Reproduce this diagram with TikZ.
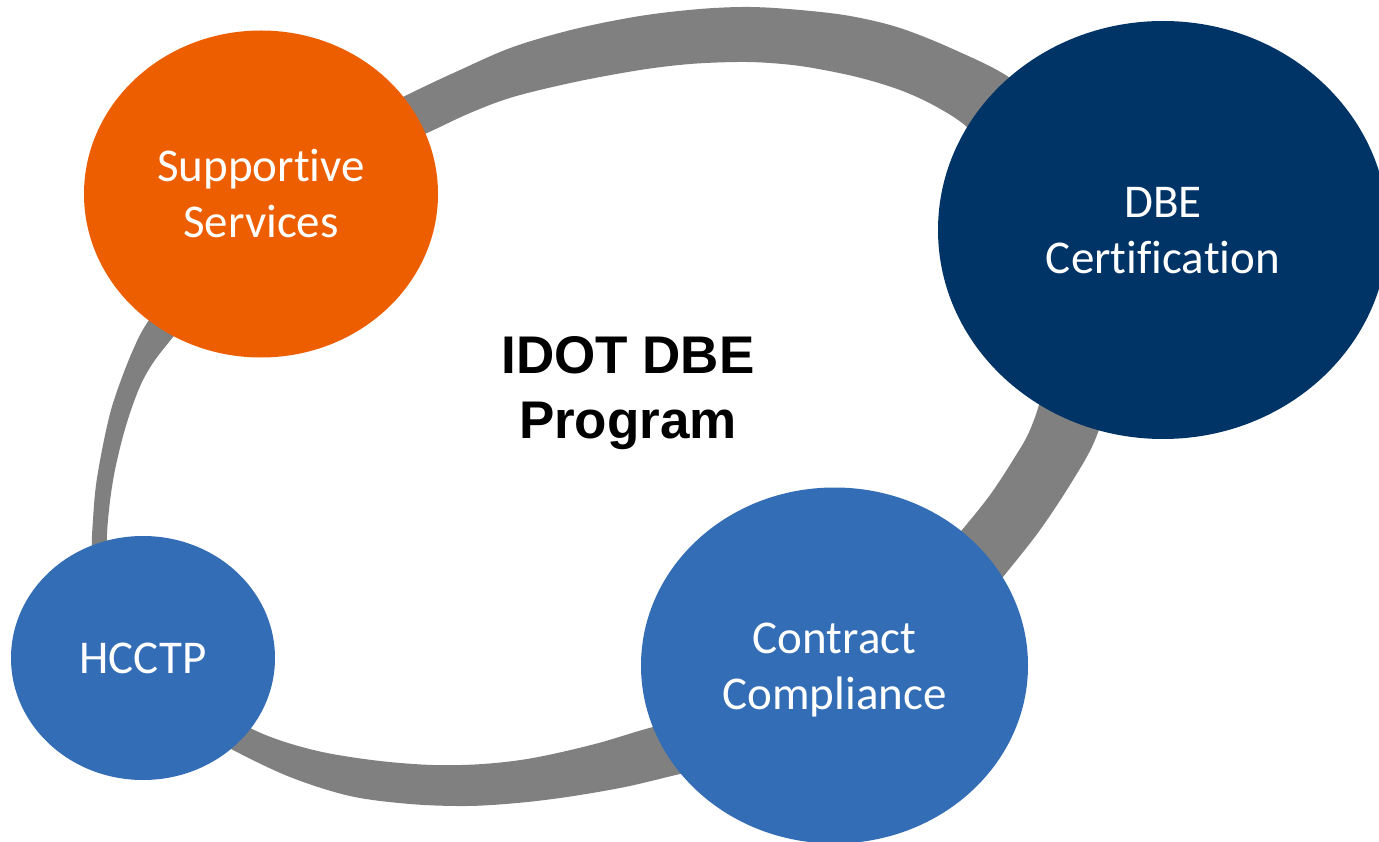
\documentclass[tikz,border=0pt]{standalone}
\usepackage{fontspec}
\setmainfont{Carlito}[Ligatures=NoCommon]
\newfontfamily\titlefont{Liberation Sans}
\usetikzlibrary{shapes.geometric}
\definecolor{ringgray}{HTML}{808080}
\definecolor{orangec}{HTML}{EC5E00}
\definecolor{navyc}{HTML}{003366}
\definecolor{bluec}{HTML}{336DB5}
\tikzset{
  bubble/.style={ellipse, inner sep=0pt, text=white, align=center,
    font=\fontsize{47}{56}\selectfont, text height=31pt, text depth=0pt},
  twoline/.style={text height=87pt},
  titletext/.style={align=center, text=black,
    font=\titlefont\bfseries\fontsize{53}{65}\selectfont, text height=103pt, text depth=0pt}
}
\begin{document}
\begin{tikzpicture}[x=1pt,y=-1pt]
\useasboundingbox (0,0) rectangle (1379,842);
\fill[white] (0,0) rectangle (1379,842);
% ring
\fill[ringgray, even odd rule]
  plot[smooth cycle, tension=0.55] coordinates {
    (92,550) (93,520) (96,485) (103,445) (111,410) (121,380) (133,350) (147,323)
    (185,270) (235,215) (290,165) (345,128) (403,97) (460,70) (513,47) (575,29)
    (640,16) (700,9) (750,7) (800,10) (850,16) (900,28) (955,50) (1010,78)
    (1055,120) (1090,180) (1110,250) (1115,320) (1110,390) (1095,440) (1073,480)
    (1040,530) (1003,577) (960,630) (900,690) (840,725) (780,750) (730,763)
    (680,774) (625,787) (567,797) (517,803) (467,806) (410,804) (350,796)
    (290,777) (233,750) (190,725) (150,690) (115,640) (97,595)}
  plot[smooth cycle, tension=0.55] coordinates {
    (107,545) (109,510) (114,475) (122,440) (131,410) (142,382) (155,360)
    (173,337) (210,290) (260,240) (310,195) (365,160) (427,133) (470,113)
    (513,97) (575,82) (640,70) (690,64) (737,62) (770,63) (807,67) (857,77)
    (900,90) (935,106) (967,127) (995,160) (1020,210) (1037,270) (1043,330)
    (1042,390) (1030,430) (1013,460) (990,495) (962,530) (920,580) (870,630)
    (810,675) (760,700) (705,716) (653,727) (595,744) (533,758) (483,764)
    (433,765) (380,761) (327,753) (285,742) (250,728) (200,700) (160,660)
    (130,615) (113,580)};
% circles
\node[bubble, twoline, fill=orangec, minimum width=354pt, minimum height=327pt] (supp) at (261,194) {Supportive\\Services};
\node[bubble, twoline, fill=navyc, minimum width=450pt, minimum height=418pt] (cert) at (1163,230) {DBE\\Certification};
\node[bubble, twoline, fill=bluec, minimum width=387pt, minimum height=356pt] (comp) at (834.5,665.5) {Contract\\Compliance};
\node[bubble, fill=bluec, minimum width=264pt, minimum height=244pt] (hcctp) at (143,658) {HCCTP};
% title
\node[titletext] (title) at (628,386.5) {IDOT DBE\\Program};
\end{tikzpicture}
\end{document}
